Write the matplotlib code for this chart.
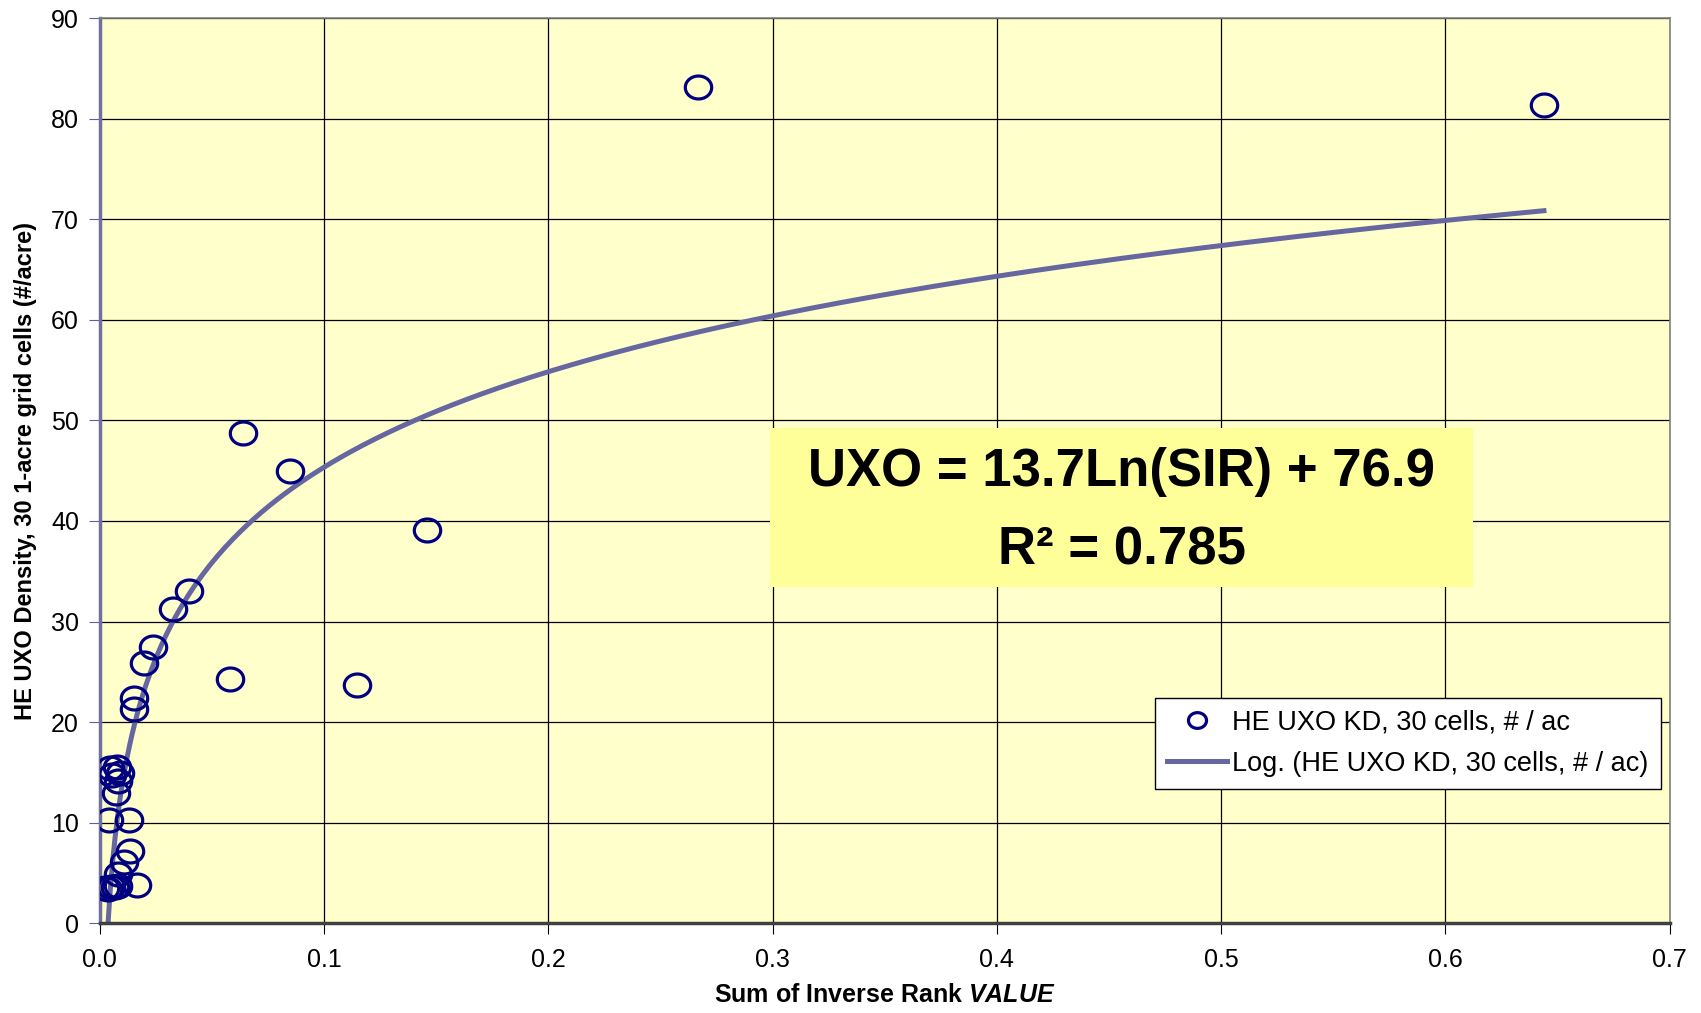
import numpy as np
import matplotlib
matplotlib.use('Agg')
import matplotlib.pyplot as plt
from matplotlib.patches import Rectangle
from matplotlib.path import Path

plt.rcParams['font.family'] = ['Liberation Sans', 'DejaVu Sans']
plt.rcParams['mathtext.fontset'] = 'custom'
plt.rcParams['mathtext.bfit'] = 'Liberation Sans:italic:bold'

# HE UXO KD, 30 cells, # / ac
sir = [0.2666, 0.644, 0.0639, 0.0847, 0.1461, 0.0399, 0.0328, 0.0239, 0.0199, 0.0582,
       0.1147, 0.0151, 0.0151, 0.0046, 0.0075, 0.0053, 0.0090, 0.0082, 0.0071, 0.0041,
       0.0130, 0.0135, 0.0109, 0.0083, 0.0165, 0.0025, 0.0035, 0.0050, 0.0068, 0.0082]
uxo = [83.2, 81.4, 48.8, 45.0, 39.1, 33.0, 31.2, 27.5, 25.9, 24.3,
       23.7, 22.4, 21.3, 15.4, 15.5, 14.7, 14.9, 14.1, 12.9, 10.3,
       10.3, 7.2, 6.1, 4.9, 3.8, 3.45, 3.4, 3.6, 3.55, 3.7]

# logarithmic trend line reported on the chart
slope = 13.7
intercept = 76.9
r2 = 0.785

xticks = [0.0, 0.1, 0.2, 0.3, 0.4, 0.5, 0.6, 0.7]
yticks = [0, 10, 20, 30, 40, 50, 60, 70, 80, 90]

# slightly flattened circle, like the Excel marker
t = np.linspace(0, 2 * np.pi, 60)
oval = Path(np.column_stack([np.cos(t), 0.87 * np.sin(t)]), closed=True)

fig = plt.figure(figsize=(17.01, 10.13), dpi=100)
ax = fig.add_axes([0.0587, 0.0888, 0.9228, 0.893])
ax.set_facecolor('#FFFFCC')

ax.plot(sir, uxo, linestyle='none', marker=oval, markersize=19, markerfacecolor='none',
        markeredgecolor='#000080', markeredgewidth=2.3,
        label='HE UXO KD, 30 cells, # / ac', zorder=3)

xs = np.linspace(min(sir), max(sir), 600)
ax.plot(xs, slope * np.log(xs) + intercept, color='#6666A0', lw=3.6,
        label='Log. (HE UXO KD, 30 cells, # / ac)', zorder=2)

ax.set_xlim(0, 0.7)
ax.set_ylim(0, 90)
ax.set_xticks(xticks)
ax.set_xticklabels([f'{v:.1f}' for v in xticks])
ax.set_yticks(yticks)
ax.grid(True, color='black', lw=0.9)
ax.set_axisbelow(True)

for s in ['top', 'right']:
    ax.spines[s].set_color('#808080')
    ax.spines[s].set_linewidth(1.2)
ax.spines['left'].set_color('#7070A0')
ax.spines['left'].set_linewidth(2.5)
ax.spines['bottom'].set_color('#404040')
ax.spines['bottom'].set_linewidth(2.5)
ax.tick_params(axis='y', direction='out', length=8, color='#6060A0', labelsize=18, pad=7)
ax.tick_params(axis='x', direction='out', length=8, color='black', labelsize=18, pad=10)

ax.set_xlabel('Sum of Inverse Rank $\\mathbfit{VALUE}$', fontsize=18, fontweight='bold', labelpad=8)
ax.set_ylabel('HE UXO Density, 30 1-acre grid cells (#/acre)', fontsize=17, fontweight='bold', labelpad=10)

ax.add_patch(Rectangle((0.427, 0.3714), 0.4478, 0.1753, transform=ax.transAxes,
                       facecolor='#FFFF99', edgecolor='none', zorder=4))
ax.text(0.651, 0.4986, f'UXO = {slope}Ln(SIR) + {intercept}', transform=ax.transAxes,
        ha='center', va='center', fontsize=38, fontweight='bold', zorder=5)
ax.text(0.651, 0.4123, f'R² = {r2}', transform=ax.transAxes,
        ha='center', va='center', fontsize=38, fontweight='bold', zorder=5)

leg = ax.legend(loc='upper left', bbox_to_anchor=(0.6722, 0.2493), fontsize=19.5,
                frameon=True, fancybox=False, edgecolor='black', framealpha=1,
                handlelength=2.2, handletextpad=0.2, borderpad=0.45, labelspacing=0.55,
                borderaxespad=0)
leg.get_frame().set_linewidth(1.0)
leg.set_zorder(6)
leg.legend_handles[0].set_markersize(13)

fig.savefig('out.png', dpi=100)
